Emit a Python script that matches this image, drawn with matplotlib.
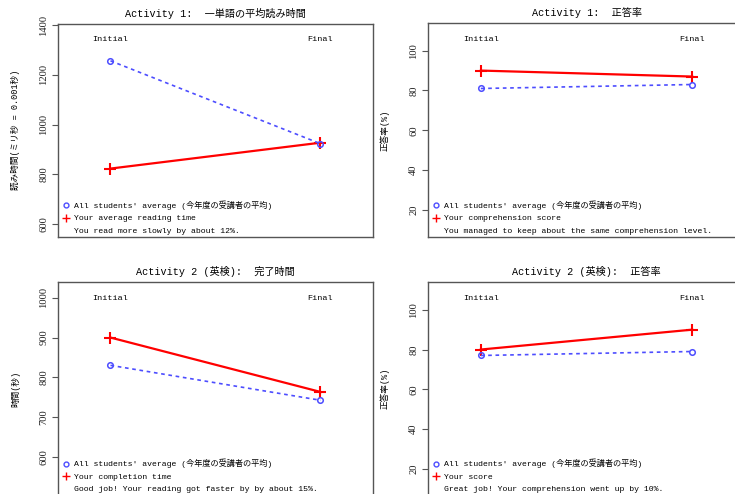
import matplotlib
matplotlib.use("Agg")
import matplotlib.pyplot as plt
import matplotlib.transforms as mtransforms
from matplotlib.lines import Line2D
from matplotlib.font_manager import FontProperties

plt.rcParams['font.family'] = ['Liberation Mono', 'Noto Sans CJK JP']

# data
stages = ["Initial", "Final"]
act1_time_avg = [1256, 923]
act1_time_you = [823, 927]
act1_score_avg = [81, 83]
act1_score_you = [90, 87]
act2_time_avg = [830, 742]
act2_time_you = [900, 763]
act2_score_avg = [77, 79]
act2_score_you = [80, 90]

titles = ["Activity 1:  一単語の平均読み時間", "Activity 1:  正答率",
          "Activity 2 (英検):  完了時間", "Activity 2 (英検):  正答率"]
ylabels = ["読み時間(ミリ秒 = 0.001秒)", "正答率(%)", "時間(秒)", "正答率(%)"]
avg_label = "All students' average (今年度の受講者の平均)"
you_labels = ["Your average reading time", "Your comprehension score",
              "Your completion time", "Your score"]
comments = ["You read more slowly by about 12%.",
            "You managed to keep about the same comprehension level.",
            "Good job! Your reading got faster by by about 15%.",
            "Great job! Your comprehension went up by 10%."]
yticks = [[600, 800, 1000, 1200, 1400], [20, 40, 60, 80, 100],
          [600, 700, 800, 900, 1000], [20, 40, 60, 80, 100]]
ylims = [(548, 1406), (6.4, 113.9), (502, 1040), (6.5, 114)]

avg_series = [act1_time_avg, act1_score_avg, act2_time_avg, act2_score_avg]
you_series = [act1_time_you, act1_score_you, act2_time_you, act2_score_you]

W, H = 735, 494
fig = plt.figure(figsize=(W / 100, H / 100), dpi=100)

# axes boxes in pixels: left, top, right, bottom
boxes = [(58, 23.5, 373, 237), (428, 23, 745, 237),
         (58, 282, 373, 495.5), (428, 282, 745, 495.5)]

frame_col = '#555555'
blue = '#4d4dff'
red = '#ff0000'
leg_font = FontProperties(family=['Liberation Mono', 'Noto Sans CJK JP'], size=5.9)

x = [1, 2]
for i, (l, t, r, b) in enumerate(boxes):
    ax = fig.add_axes([l / W, (H - b) / H, (r - l) / W, (b - t) / H])
    ax.plot(x, you_series[i], color=red, lw=1.6, marker='+', ms=8, mew=1.5, zorder=3)
    ax.plot(x, avg_series[i], color=blue, lw=1.2, ls=(0, (2.2, 2.2)), marker='o',
            ms=4, mew=1.1, mfc='none', zorder=4)
    ax.set_xlim(0.75, 2.25)
    ax.set_ylim(*ylims[i])
    ax.set_xticks([])
    ax.set_yticks(yticks[i])
    ax.set_yticklabels([str(v) for v in yticks[i]], rotation=90, va='center',
                       family='Liberation Serif', fontsize=7.6, color='#222222')
    ax.tick_params(axis='y', length=4, width=0.8, color=frame_col, pad=3)
    for s in ax.spines.values():
        s.set_color(frame_col)
        s.set_linewidth(1.0)
    ax.set_title(titles[i], fontsize=7.3, pad=5)
    ax.set_ylabel(ylabels[i], fontsize=6.2)
    ax.yaxis.set_label_coords(-0.12, 0.5)

    trans = mtransforms.blended_transform_factory(ax.transData, ax.transAxes)
    for xi, s in zip(x, stages):
        ax.text(xi, 0.925, s, transform=trans, ha='center', va='center', fontsize=6.1)

    handles = [Line2D([], [], ls='none', marker='o', ms=3.5, mew=1.0, mfc='none', color=blue),
               Line2D([], [], ls='none', marker='+', ms=6, mew=1.0, color=red),
               Line2D([], [], ls='none')]
    ax.legend(handles, [avg_label, you_labels[i], comments[i]], loc='lower left',
              bbox_to_anchor=(0.011, 0.01), frameon=False, prop=leg_font,
              handlelength=1.0, handletextpad=0.5, labelspacing=0.58,
              borderpad=0, borderaxespad=0)

fig.savefig("out.png", dpi=100)
